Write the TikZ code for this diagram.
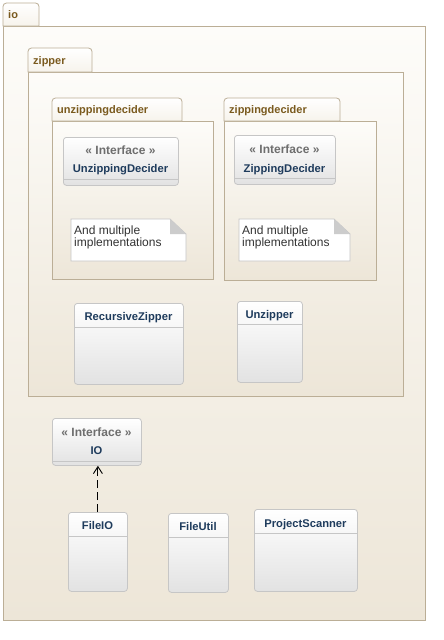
\documentclass[tikz,border=0pt]{standalone}
\usepackage{fontspec}
\setmainfont{Liberation Sans}
\usetikzlibrary{arrows.meta,shadings}
\definecolor{pkgborder}{HTML}{BBAE96}
\definecolor{pkgtop}{HTML}{FDFCF9}
\definecolor{pkgbot}{HTML}{EDE6D8}
\definecolor{pkgtext}{HTML}{7A5A1E}
\definecolor{clsborder}{HTML}{C6C6C6}
\definecolor{clsbot}{HTML}{E2E2E2}
\definecolor{clstext}{HTML}{1E3B5C}
\definecolor{stereo}{HTML}{6E6E6E}
\definecolor{notefold}{HTML}{CCCCCC}
\definecolor{notetxt}{HTML}{333333}
\tikzset{
  pkgbody/.style={top color=pkgtop,bottom color=pkgbot,draw=pkgborder,line width=0.8pt},
  pkgtab/.style={top color=white,bottom color=pkgtop!60!pkgbot,draw=pkgborder,line width=0.8pt},
  pkglabel/.style={inner sep=0pt,text=pkgtext,font=\fontsize{11}{13}\selectfont\bfseries,anchor=base west},
  cls/.style={rectangle,rounded corners=3pt,top color=white,bottom color=clsbot,draw=clsborder,line width=0.8pt,inner sep=0pt,anchor=north west},
  clsname/.style={inner sep=0pt,text=clstext,font=\fontsize{11.2}{13}\selectfont\bfseries,anchor=base},
  stereotext/.style={inner sep=0pt,text=stereo,font=\fontsize{12}{13}\selectfont\bfseries,anchor=base},
  divider/.style={draw=clsborder,line width=0.8pt},
  notebody/.style={fill=white,draw=clsborder,line width=0.8pt},
  notetext/.style={inner sep=0pt,text=notetxt,align=left,font=\fontsize{12}{12}\selectfont,anchor=north west},
  realize/.style={dash pattern=on 8pt off 4pt,line width=0.9pt,-{Straight Barb[length=7pt,width=9pt]}}
}
% #1 name #2 x1 #3 ytab #4 xtab #5 ybody #6 x2 #7 y2 #8 label
\newcommand{\umlpkg}[8]{%
  \shade[pkgbody] (#2,#5) rectangle (#6,#7);
  \shade[pkgtab] (#2,#5) [rounded corners=3.5pt] -- (#2,#3) -- (#4,#3) [sharp corners] -- (#4,#5) -- cycle;
  \node[pkglabel] (#1) at ({#2+5},{(#3+#5)/2+4}) {#8};
}
% #1 name #2 x1 #3 y1 #4 x2 #5 y2 #6 divider y
\newcommand{\umlcls}[6]{%
  \node[cls,minimum width={(#4-#2)*1pt},minimum height={(#5-#3)*1pt}] (#1) at (#2,#3) {};
  \draw[divider] (#2,#6) -- (#4,#6);
}
\newcommand{\umlnote}[5]{%
  \path[notebody] (#2,#3) -- ({#4-16},#3) -- (#4,{#3+15}) -- (#4,#5) -- (#2,#5) -- cycle;
  \path[fill=notefold] ({#4-16},#3) -- ({#4-16},{#3+15}) -- (#4,{#3+15}) -- cycle;
  \node[notetext] (#1) at ({#2+3},{#3+7}) {And multiple\\implementations};
}
\begin{document}
\begin{tikzpicture}[x=1pt,y=-1pt]
\useasboundingbox[fill=white] (0,0) rectangle (444,640);
\umlpkg{pio}{3}{3}{39}{26}{425}{620}{io}
\umlpkg{pzipper}{28}{48}{92}{72}{403}{396}{zipper}
\umlpkg{punz}{52}{98}{182}{121}{213}{279}{unzippingdecider}
\umlpkg{pzip}{224}{98}{340}{121}{376}{280}{zippingdecider}

\umlcls{unzdec}{63}{137}{178}{185}{179}
\node[stereotext] (unzdecst) at (120.5,154) {« Interface »};
\node[clsname] (unzdecnm) at (120.5,172) {UnzippingDecider};

\umlcls{zipdec}{234}{135}{335}{184}{178}
\node[stereotext] (zipdecst) at (284.5,153) {« Interface »};
\node[clsname] (zipdecnm) at (284.5,172) {ZippingDecider};

\umlnote{note1}{71}{219}{186}{261}
\umlnote{note2}{239}{219}{350}{261}

\umlcls{rzip}{74}{303}{183}{384}{327}
\node[clsname] (rzipnm) at (128.5,320) {RecursiveZipper};
\umlcls{unzip}{237}{301}{302}{382}{324}
\node[clsname] (unzipnm) at (269.5,318) {Unzipper};

\umlcls{io}{52}{418}{141}{465}{461}
\node[stereotext] (iost) at (96.5,436) {« Interface »};
\node[clsname] (ionm) at (96.5,454) {IO};

\umlcls{fileio}{68}{512}{127}{591}{536}
\node[clsname] (fileionm) at (97.5,529) {FileIO};
\umlcls{fileutil}{168}{513}{228}{592}{537}
\node[clsname] (fileutilnm) at (198,530) {FileUtil};
\umlcls{pscan}{254}{509}{357}{591}{533}
\node[clsname] (pscannm) at (305.5,527) {ProjectScanner};

\draw[realize] (fileio.north) -- (fileio.north |- io.south);
\end{tikzpicture}
\end{document}
